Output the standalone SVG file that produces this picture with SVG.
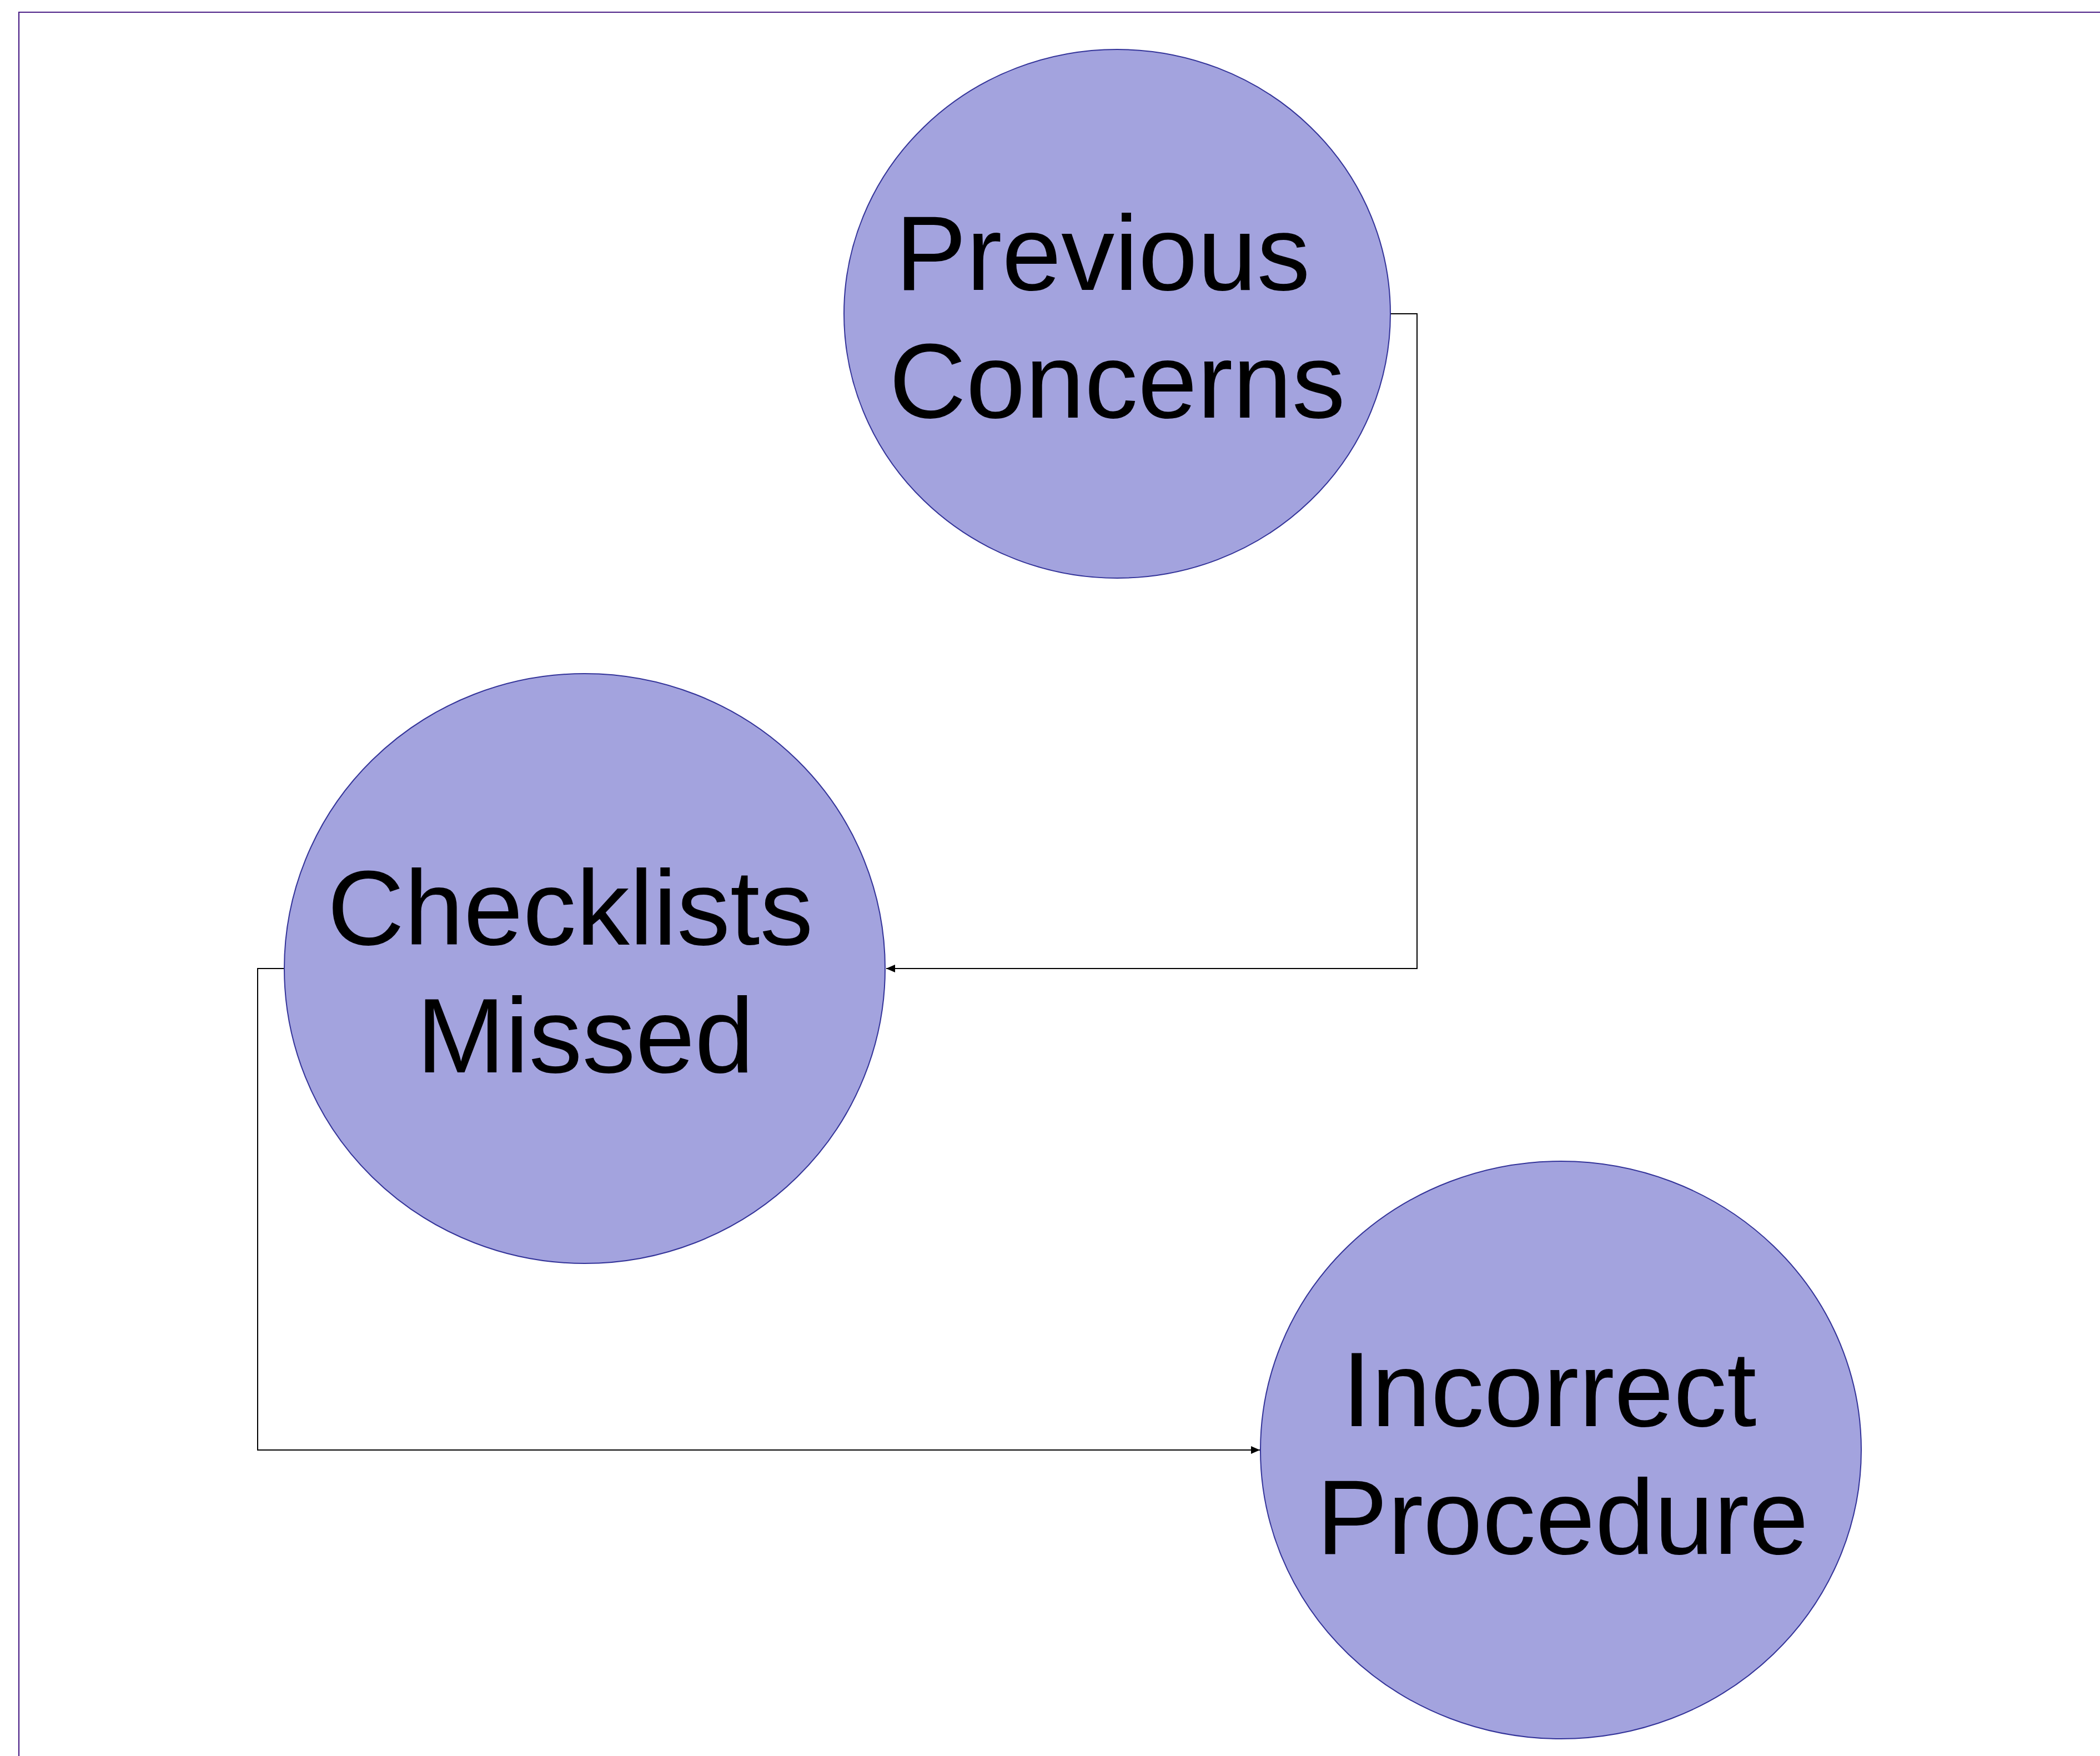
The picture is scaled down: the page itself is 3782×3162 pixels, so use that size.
<svg xmlns="http://www.w3.org/2000/svg" width="3782" height="3162" viewBox="0 0 3782 3162">
<style>
.node{fill:#a3a3de;stroke:#333399;stroke-width:2}
.lbl{font-family:"Liberation Sans",Arial,sans-serif;font-size:192px;fill:#000;text-anchor:middle}
.conn{fill:none;stroke:#000;stroke-width:2}
</style>
<defs>
<marker id="arr" markerUnits="userSpaceOnUse" markerWidth="18" markerHeight="16" refX="16" refY="7" orient="auto">
<path d="M0,0 L16,7 L0,14 Z" fill="#000"/>
</marker>
</defs>
<rect width="3782" height="3162" fill="#fff"/>
<path d="M34,3162 L34,22 L3782,22" fill="none" stroke="#4b1f86" stroke-width="2.2"/>
<g id="connectors">
<path class="conn" d="M2504,565 L2552,565 L2552,1744 L1596,1744" marker-end="url(#arr)"/>
<path class="conn" d="M511,1744 L464,1744 L464,2611 L2269,2611" marker-end="url(#arr)"/>
</g>
<g id="node-previous-concerns">
<ellipse class="node" cx="2012" cy="565" rx="492" ry="476"/>
<text class="lbl" x="1986" y="522">Previous</text>
<text class="lbl" x="2012" y="752">Concerns</text>
</g>
<g id="node-checklists-missed">
<ellipse class="node" cx="1053" cy="1744" rx="541" ry="531"/>
<text class="lbl" x="1027" y="1701">Checklists</text>
<text class="lbl" x="1054" y="1931">Missed</text>
</g>
<g id="node-incorrect-procedure">
<ellipse class="node" cx="2811" cy="2611" rx="541" ry="520"/>
<text class="lbl" x="2790" y="2568">Incorrect</text>
<text class="lbl" x="2814" y="2798">Procedure</text>
</g>
</svg>
